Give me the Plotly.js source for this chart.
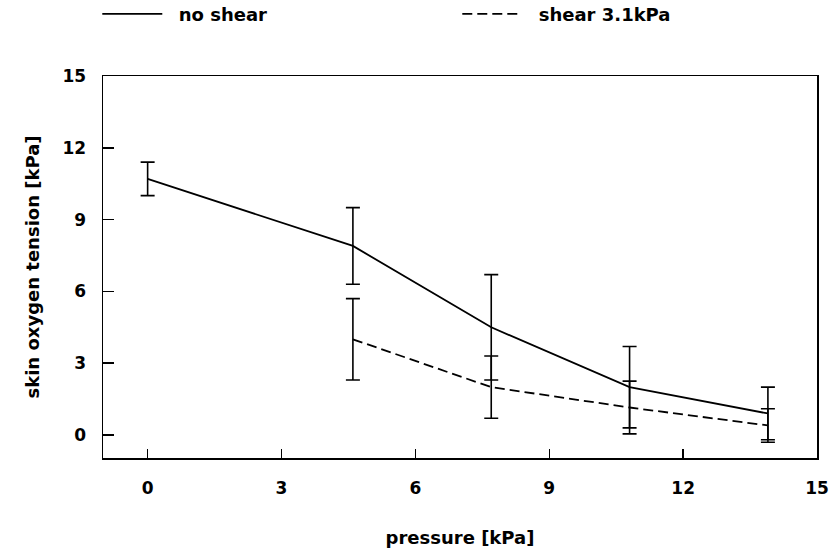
<!DOCTYPE html>
<html>
<head>
<meta charset="utf-8">
<script src="https://cdn.plot.ly/plotly-3.0.1.min.js"></script>
<style>html,body{margin:0;padding:0;background:#fff;}#chart{width:834px;height:552px;}</style>
</head>
<body>
<div id="chart"></div>
<script>
// data
var pressureNoShear = [0, 4.6, 7.7, 10.8, 13.9];
var oxygenNoShear   = [10.7, 7.9, 4.5, 2.0, 0.9];
var errNoShear      = [0.7, 1.6, 2.2, 1.7, 1.1];

var pressureShear = [4.6, 7.7, 10.8, 13.9];
var oxygenShear   = [4.0, 2.0, 1.15, 0.4];
var errShear      = [1.7, 1.3, 1.1, 0.7];

var tickVals = [0, 3, 6, 9, 12, 15];
var tickText = ['0', '3', '6', '9', '12', '15'];

var FONT = 'DejaVu Sans, Liberation Sans, Arial, sans-serif';
var GAP = '\u00a0\u00a0';

var traces = [
  {
    x: pressureNoShear, y: oxygenNoShear, name: GAP + '<b>no shear</b>',
    type: 'scatter', mode: 'lines',
    line: {color: '#000', width: 1.8},
    error_y: {type: 'data', array: errNoShear, visible: true, color: '#000', thickness: 1.6, width: 7}
  },
  {
    x: pressureShear, y: oxygenShear, name: GAP + '<b>shear 3.1kPa</b>',
    type: 'scatter', mode: 'lines',
    line: {color: '#000', width: 1.8, dash: '10px,5px'},
    error_y: {type: 'data', array: errShear, visible: true, color: '#000', thickness: 1.6, width: 7}
  }
];

var layout = {
  width: 834, height: 552,
  paper_bgcolor: '#fff', plot_bgcolor: '#fff',
  margin: {l: 103, r: 17, t: 76, b: 94, pad: 0, autoexpand: false},
  font: {family: FONT, color: '#000', size: 16},
  showlegend: true,
  legend: {
    orientation: 'h', x: -0.008, xanchor: 'left', y: 1.162, yanchor: 'middle',
    font: {family: FONT, size: 18, color: '#000'},
    itemwidth: 60, entrywidth: 285, entrywidthmode: 'pixels',
    bgcolor: 'rgba(0,0,0,0)', borderwidth: 0
  },
  xaxis: {
    range: [-1.0, 15], tickvals: tickVals, ticktext: tickText,
    ticks: 'inside', ticklen: 9, tickwidth: 1.5, tickcolor: '#000',
    showline: true, linecolor: '#000', linewidth: 1.5, mirror: true,
    showgrid: false, zeroline: false, automargin: false,
    ticklabelstandoff: 14,
    tickfont: {family: FONT, size: 17, color: '#000', weight: 'bold'},
    title: {text: '<b>pressure [kPa]</b>', font: {family: FONT, size: 18, color: '#000'}, standoff: 34}
  },
  yaxis: {
    range: [-0.96, 15], tickvals: tickVals, ticktext: tickText,
    ticks: 'inside', ticklen: 11, tickwidth: 1.5, tickcolor: '#000',
    showline: true, linecolor: '#000', linewidth: 1.5, mirror: true,
    showgrid: false, zeroline: false, automargin: false,
    ticklabelstandoff: 12,
    tickfont: {family: FONT, size: 17, color: '#000', weight: 'bold'},
    title: {text: '<b>skin oxygen tension [kPa]</b>', font: {family: FONT, size: 18, color: '#000'}, standoff: 18}
  }
};

Plotly.newPlot('chart', traces, layout, {displayModeBar: false, staticPlot: true});
</script>
</body>
</html>
